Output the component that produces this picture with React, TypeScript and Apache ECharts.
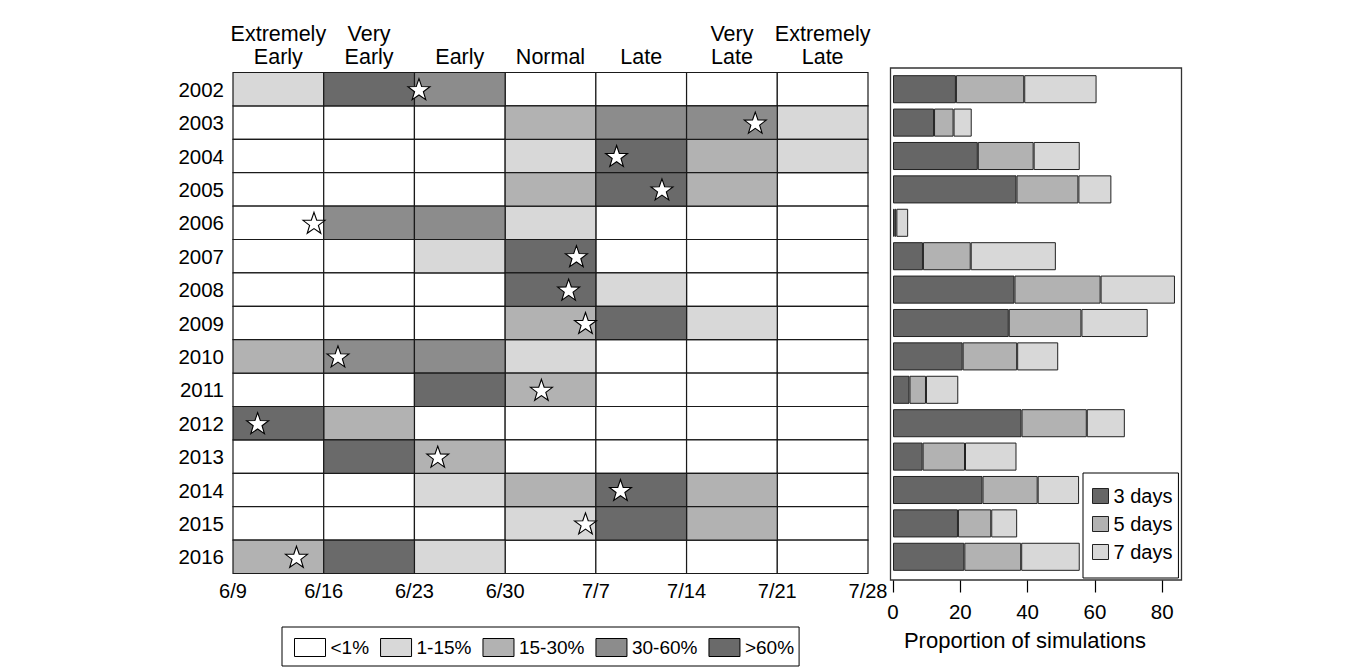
import React, { useEffect, useRef } from "react";
import * as echarts from "echarts";

const years = ["2002","2003","2004","2005","2006","2007","2008","2009","2010","2011","2012","2013","2014","2015","2016"];
const periods = ["Extremely\nEarly","Very\nEarly","Early","Normal","Late","Very\nLate","Extremely\nLate"];
const dateTicks = ["6/9","6/16","6/23","6/30","7/7","7/14","7/21","7/28"];
const levelNames = ["<1%","1-15%","15-30%","30-60%",">60%"];
const levelColors = ["#ffffff","#d8d8d8","#b2b2b2","#8c8c8c","#6a6a6a"];
// level index per year (rows) and period (columns)
const cellLevels: number[][] = [
  [1,4,3,0,0,0,0],
  [0,0,0,2,3,3,1],
  [0,0,0,1,4,2,1],
  [0,0,0,2,4,2,0],
  [0,3,3,1,0,0,0],
  [0,0,1,4,0,0,0],
  [0,0,0,4,1,0,0],
  [0,0,0,2,4,1,0],
  [2,3,3,1,0,0,0],
  [0,0,4,2,0,0,0],
  [4,2,0,0,0,0,0],
  [0,4,2,0,0,0,0],
  [0,0,1,2,4,2,0],
  [0,0,0,1,4,2,0],
  [2,4,1,0,0,0,0],
];
// observed peak (star), days after 6/9
const peakDay = [14.35,40.3,29.6,33.1,6.25,26.5,25.9,27.2,8.1,23.8,1.9,15.8,29.9,27.2,4.9];
const barNames = ["3 days","5 days","7 days"];
const barColors = ["#666666","#b2b2b2","#d8d8d8"];
const days3 = [18.7,12.2,25.2,36.7,0.5,8.9,36.1,34.4,20.7,4.9,38.2,8.8,26.6,19.3,21.2];
const days5 = [20.3,5.8,16.6,18.4,0.5,14.2,25.6,21.6,16.2,4.9,19.4,12.6,16.4,9.9,16.9];
const days7 = [21.5,5.4,13.7,9.8,3.5,25.3,22.1,19.7,12.2,9.6,11.3,15.3,12.3,7.7,17.4];
const barTicks = [0,20,40,60,80];

const FONT = "'Liberation Sans', Arial, Helvetica, sans-serif";
const STAR = "path://M0,-10 L2.35,-3.24 9.51,-3.09 3.8,1.24 5.88,8.09 0,4 -5.88,8.09 -3.8,1.24 -9.51,-3.09 -2.35,-3.24 Z";

export default function App() {
  const ref = useRef<HTMLDivElement>(null);
  useEffect(() => {
    document.body.style.margin = "0";
    if (!ref.current) return;
    const chart = echarts.init(ref.current, null, { renderer: "svg" });

    const cellSeries = levelNames.map((name, lvl) => {
      const data: number[][] = [];
      cellLevels.forEach((row, r) => row.forEach((v, c) => { if (v === lvl) data.push([c, r]); }));
      return {
        type: "custom",
        name,
        xAxisIndex: 0,
        yAxisIndex: 0,
        itemStyle: { color: levelColors[lvl], borderColor: "#000", borderWidth: 1 },
        encode: { x: 0, y: 1 },
        data,
        z: 2,
        renderItem: (params: any, api: any) => {
          const c = api.value(0);
          const r = api.value(1);
          const p0 = api.coord([c * 7, r]);
          const p1 = api.coord([(c + 1) * 7, r]);
          const h = api.size([0, 1])[1];
          return {
            type: "rect",
            shape: { x: p0[0], y: p0[1] - h / 2, width: p1[0] - p0[0], height: h },
            style: { fill: levelColors[lvl], stroke: "#1a1a1a", lineWidth: 1.2 },
          };
        },
      };
    });

    const option: any = {
      animation: false,
      backgroundColor: "#fff",
      textStyle: { fontFamily: FONT, color: "#000" },
      grid: [
        { left: 233, top: 72.5, width: 635, height: 501 },
        { left: 893, top: 72.5, width: 286, height: 501 },
      ],
      xAxis: [
        {
          type: "value", gridIndex: 0, min: 0, max: 49, interval: 7,
          axisLine: { show: false }, axisTick: { show: false }, splitLine: { show: false },
          axisLabel: { fontSize: 20, color: "#000", margin: 7, fontFamily: FONT,
            formatter: (v: number) => dateTicks[Math.round(v / 7)] ?? "" },
        },
        {
          type: "category", gridIndex: 0, position: "top", data: periods,
          axisLine: { show: false }, axisTick: { show: false },
          axisLabel: { fontSize: 21.5, lineHeight: 23, color: "#000", margin: 4, fontFamily: FONT, interval: 0 },
        },
        {
          type: "value", gridIndex: 1, min: 0, max: 85, offset: 7,
          axisLine: { show: false },
          axisTick: { show: true, length: 12, lineStyle: { color: "#000", width: 1.2 }, customValues: barTicks },
          splitLine: { show: false },
          axisLabel: { fontSize: 20.5, color: "#000", margin: 20, fontFamily: FONT, customValues: barTicks },
        },
      ],
      yAxis: [
        {
          type: "category", gridIndex: 0, data: years, inverse: true,
          axisLine: { show: false }, axisTick: { show: false },
          axisLabel: { fontSize: 20.5, color: "#000", margin: 9, fontFamily: FONT },
        },
        {
          type: "category", gridIndex: 1, data: years, inverse: true, show: false,
        },
      ],
      legend: [
        {
          data: levelNames, orient: "horizontal", left: 282, top: 627,
          itemWidth: 31, itemHeight: 18, itemGap: 11, icon: "rect",
          padding: [11, 5, 9, 12], borderColor: "#000", borderWidth: 1,
          selectedMode: false,
          itemStyle: { borderColor: "#000", borderWidth: 1 },
          textStyle: { fontSize: 19, color: "#000", fontFamily: FONT },
        },
        {
          data: barNames, orient: "vertical", left: 1083, top: 473,
          itemWidth: 16, itemHeight: 15, itemGap: 8, icon: "rect",
          padding: [13, 6, 16, 9], borderColor: "#000", borderWidth: 1, backgroundColor: "#fff",
          selectedMode: false,
          itemStyle: { borderColor: "#222", borderWidth: 1 },
          textStyle: { fontSize: 20, color: "#000", fontFamily: FONT },
          z: 10,
        },
      ],
      graphic: [
        {
          type: "rect", left: 888, top: 65.5, z: 0,
          shape: { x: 0, y: 0, width: 291, height: 512 },
          style: { fill: "none", stroke: "#333", lineWidth: 1.3 },
        },
        {
          type: "text", x: 1025, y: 640, z: 5,
          style: { text: "Proportion of simulations", fontSize: 22, fontFamily: FONT, fill: "#000",
            textAlign: "center", textVerticalAlign: "middle" },
        },
      ],
      series: [
        ...cellSeries,
        {
          type: "scatter", name: "peak", xAxisIndex: 0, yAxisIndex: 0,
          symbol: STAR, symbolSize: [22, 21], z: 5,
          itemStyle: { color: "#fff", opacity: 1, borderColor: "#000", borderWidth: 1.1 },
          data: peakDay.map((d, i) => [d, i]),
        },
        ...[days3, days5, days7].map((vals, k) => ({
          type: "bar", name: barNames[k], xAxisIndex: 2, yAxisIndex: 1, stack: "total",
          barWidth: "84%",
          itemStyle: { color: barColors[k], borderColor: "#222", borderWidth: 1 },
          data: vals,
        })),
      ],
    };
    chart.setOption(option);
    return () => chart.dispose();
  }, []);
  return <div ref={ref} style={{ width: 1359, height: 672 }} />;
}
